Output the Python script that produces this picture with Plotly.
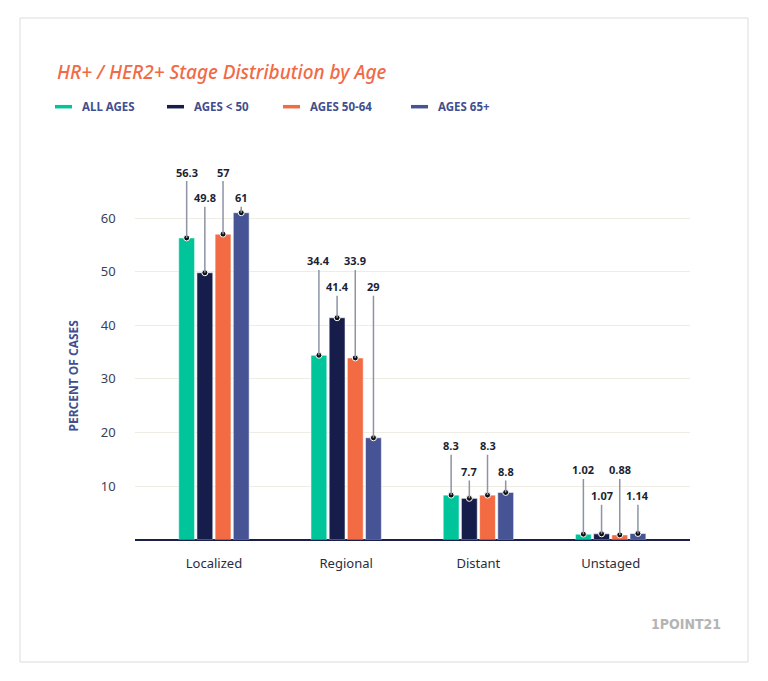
import plotly.graph_objects as go

# ---- data ----
categories = ["Localized", "Regional", "Distant", "Unstaged"]
series_names = ["ALL AGES", "AGES < 50", "AGES 50-64", "AGES 65+"]
all_ages = [56.3, 34.4, 8.3, 1.02]
ages_lt50 = [49.8, 41.4, 7.7, 1.07]
ages_50_64 = [57, 33.9, 8.3, 0.88]
ages_65p = [61, 19, 8.8, 1.14]          # bar heights as drawn
labels_all = ["56.3", "34.4", "8.3", "1.02"]
labels_lt50 = ["49.8", "41.4", "7.7", "1.07"]
labels_50_64 = ["57", "33.9", "8.3", "0.88"]
labels_65p = ["61", "29", "8.8", "1.14"]  # label text as printed
y_ticks = [10, 20, 30, 40, 50, 60]

series_values = [all_ages, ages_lt50, ages_50_64, ages_65p]
series_labels = [labels_all, labels_lt50, labels_50_64, labels_65p]

# ---- style ----
colors = ["#00c49a", "#161d4b", "#f26b43", "#465394"]
W, H = 768, 681
label_top = [68.6, 52.0, 17.5, 13.0]   # label row levels (layout)
label_drop = 4.8
bar_w = 0.12
slot = 0.1375
group_left = -2 * slot

fig = go.Figure()
xs = list(range(len(categories)))

for k, (name, vals) in enumerate(zip(series_names, series_values)):
    off = group_left + k * slot + (slot - bar_w) / 2
    fig.add_trace(go.Bar(
        x=xs, y=vals, name=name, width=bar_w, offset=off,
        marker=dict(color=colors[k], line=dict(color="rgba(255,255,255,0.55)", width=1)),
        showlegend=False, hoverinfo="skip",
    ))

annotations = []
dot_x, dot_y = [], []
for k, (vals, labs) in enumerate(zip(series_values, series_labels)):
    center = group_left + k * slot + slot / 2
    for i, (v, t) in enumerate(zip(vals, labs)):
        cx = i + center
        dot_x.append(cx)
        dot_y.append(v)
        annotations.append(dict(
            x=cx, y=v, xref="x", yref="y",
            ax=cx, ay=label_top[i] - (label_drop if k % 2 else 0),
            axref="x", ayref="y",
            text=t, showarrow=True, arrowhead=0, arrowwidth=1.5,
            arrowcolor="#8e93a6", standoff=0,
            font=dict(family="Noto Sans", size=11, color="#1c1f33", weight="bold"),
        ))

fig.add_trace(go.Scatter(
    x=dot_x, y=dot_y, mode="markers", showlegend=False, hoverinfo="skip",
    marker=dict(color="#111111", size=6, line=dict(color="white", width=1)),
))

# manual legend
leg_x = [55, 167, 283, 411]
leg_y = 106.7
shapes = []
for k, name in enumerate(series_names):
    shapes.append(dict(type="line", xref="paper", yref="paper",
                       x0=leg_x[k] / W, x1=(leg_x[k] + 17) / W,
                       y0=1 - leg_y / H, y1=1 - leg_y / H,
                       line=dict(color=colors[k], width=3.5)))
    annotations.append(dict(
        x=(leg_x[k] + 25) / W, y=1 - leg_y / H, xref="paper", yref="paper",
        xanchor="left", yanchor="middle", showarrow=False, text=name,
        font=dict(family="Noto Sans", size=11.5, color="#3f4f8f", weight="bold"),
    ))

# card border
shapes.append(dict(type="rect", xref="paper", yref="paper",
                   x0=20 / W, x1=748 / W, y0=1 - 662 / H, y1=1 - 18 / H,
                   line=dict(color="#dcdcdc", width=1), fillcolor="rgba(0,0,0,0)",
                   layer="below"))

# title
annotations.append(dict(
    x=55 / W, y=1 - 72 / H, xref="paper", yref="paper", xanchor="left",
    yanchor="middle", showarrow=False,
    text="HR+ / HER2+ Stage Distribution by Age",
    font=dict(family="Noto Sans", size=19, color="#f26a45", style="italic", weight=500),
))
# y-axis title
annotations.append(dict(
    x=62 / W, y=1 - 376 / H, xref="paper", yref="paper", textangle=-90,
    showarrow=False, text="PERCENT OF CASES",
    font=dict(family="Noto Sans", size=12, color="#3f4f8f", weight="bold"),
))
# logo
annotations.append(dict(
    x=723 / W, y=1 - 624 / H, xref="paper", yref="paper", xanchor="right",
    yanchor="middle", showarrow=False, text="1POINT21",
    font=dict(family="Liberation Sans Narrow, DejaVu Sans Condensed", size=14,
              color="#b4b4b4", weight="bold"),
))

y0_px, y1_px = 539.6, 164.5
fig.update_layout(
    width=W, height=H, margin=dict(l=0, r=0, t=0, b=0),
    paper_bgcolor="white", plot_bgcolor="white",
    showlegend=False, annotations=annotations, shapes=shapes,
    xaxis=dict(domain=[134.6 / W, 690 / W], range=[-0.6, 3.6],
               tickvals=xs, ticktext=categories, showgrid=False,
               showline=False, zeroline=False, ticks="",
               ticklabelstandoff=14,
               tickfont=dict(family="Noto Sans", size=13, color="#2a2d3e")),
    yaxis=dict(domain=[1 - y0_px / H, 1 - y1_px / H], range=[0, 70],
               tickvals=y_ticks, showgrid=True, gridcolor="#efece3", gridwidth=1,
               zeroline=True, zerolinecolor="#1a1f4a", zerolinewidth=2,
               showline=False, ticks="", ticklabelstandoff=18,
               tickfont=dict(family="Noto Sans", size=13, color="#3a3f5c")),
)

fig.write_html("out.html", config={"displayModeBar": False},
               post_script="document.body.style.margin='0';")
